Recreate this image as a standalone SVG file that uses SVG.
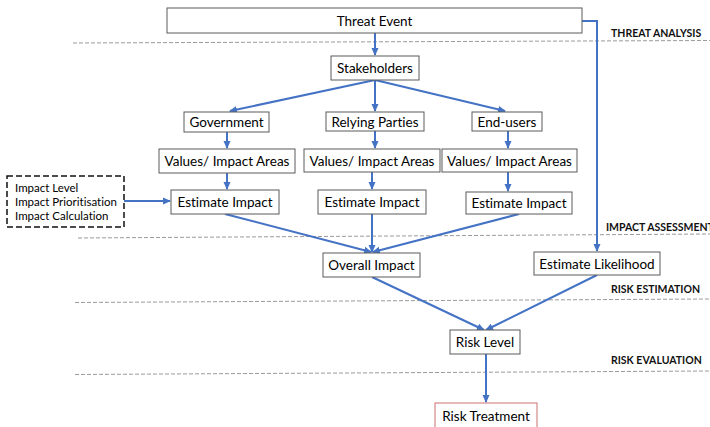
<svg xmlns="http://www.w3.org/2000/svg" width="710" height="427" viewBox="0 0 710 427">
<style>
text{font-variant-ligatures:none}
.box{fill:#fff;stroke:#5a5a5a;stroke-width:1}
.t{font-family:Lato,"Open Sans",sans-serif;font-size:13.5px;fill:#000;text-anchor:middle}
.s{font-family:Lato,"Open Sans",sans-serif;font-size:11.5px;fill:#000}
.lab{font-family:Lato,"Open Sans",sans-serif;font-size:10.5px;font-weight:bold;fill:#111}
.sep{stroke:#9a9a9a;stroke-width:1;stroke-dasharray:4 2;fill:none}
.c{stroke:#4472c4;stroke-width:2;fill:none}
</style>
<defs>
<marker id="ah" markerUnits="userSpaceOnUse" markerWidth="8" markerHeight="8" viewBox="0 0 8 8" refX="7" refY="4" orient="auto">
<path d="M0,0.5 L8,4 L0,7.5 Z" fill="#4472c4"/>
</marker>
</defs>
<g id="separators">
<line class="sep" x1="73" y1="43" x2="710" y2="40.5"/>
<line class="sep" x1="78" y1="238" x2="710" y2="234"/>
<line class="sep" x1="75" y1="302.5" x2="710" y2="299"/>
<line class="sep" x1="75" y1="374.5" x2="710" y2="371"/>
<text class="lab" x="611" y="37">THREAT ANALYSIS</text>
<text class="lab" x="606" y="231">IMPACT ASSESSMENT</text>
<text class="lab" x="611" y="293">RISK ESTIMATION</text>
<text class="lab" x="611" y="364">RISK EVALUATION</text>
</g>
<g id="connectors">
<line class="c" x1="375" y1="33" x2="375" y2="55" marker-end="url(#ah)"/>
<polyline class="c" points="582,21 597,21 597,251" marker-end="url(#ah)"/>
<line class="c" x1="375" y1="80" x2="230" y2="111" marker-end="url(#ah)"/>
<line class="c" x1="375" y1="80" x2="375" y2="111" marker-end="url(#ah)"/>
<line class="c" x1="375" y1="80" x2="505" y2="111" marker-end="url(#ah)"/>
<line class="c" x1="227" y1="132" x2="227" y2="148" marker-end="url(#ah)"/>
<line class="c" x1="375" y1="131" x2="375" y2="148" marker-end="url(#ah)"/>
<line class="c" x1="508" y1="131" x2="508" y2="148" marker-end="url(#ah)"/>
<line class="c" x1="227" y1="173" x2="227" y2="189" marker-end="url(#ah)"/>
<line class="c" x1="372" y1="172" x2="372" y2="189" marker-end="url(#ah)"/>
<line class="c" x1="508" y1="172" x2="508" y2="191" marker-end="url(#ah)"/>
<line class="c" x1="124" y1="201" x2="170" y2="201" marker-end="url(#ah)"/>
<line class="c" x1="225" y1="214" x2="371" y2="252" marker-end="url(#ah)"/>
<line class="c" x1="372" y1="214" x2="372" y2="252" marker-end="url(#ah)"/>
<line class="c" x1="519" y1="214" x2="373" y2="252" marker-end="url(#ah)"/>
<line class="c" x1="372" y1="277" x2="484" y2="330" marker-end="url(#ah)"/>
<line class="c" x1="597" y1="275" x2="486" y2="330" marker-end="url(#ah)"/>
<line class="c" x1="486" y1="354" x2="486" y2="402" marker-end="url(#ah)"/>
</g>
<g id="threat-event"><rect class="box" x="167" y="8" width="415" height="25"/><text class="t" x="374.5" y="25.5">Threat Event</text></g>
<g id="stakeholders"><rect class="box" x="331" y="56" width="88" height="24"/><text class="t" x="375" y="73">Stakeholders</text></g>
<g id="government"><rect class="box" x="184" y="112" width="85" height="20"/><text class="t" x="226.5" y="127">Government</text></g>
<g id="relying-parties"><rect class="box" x="326" y="112" width="98" height="19"/><text class="t" x="375" y="126.5">Relying Parties</text></g>
<g id="end-users"><rect class="box" x="472" y="112" width="70" height="19"/><text class="t" x="507" y="126.5">End-users</text></g>
<g id="values-gov"><rect class="box" x="159" y="149" width="136" height="24"/><text class="t" x="227" y="166">Values/ Impact Areas</text></g>
<g id="values-rp"><rect class="box" x="304" y="149" width="136" height="23"/><text class="t" x="372" y="165.5">Values/ Impact Areas</text></g>
<g id="values-eu"><rect class="box" x="442" y="149" width="135" height="23"/><text class="t" x="509.5" y="165.5">Values/ Impact Areas</text></g>
<g id="estimate-gov"><rect class="box" x="171" y="190" width="108" height="24"/><text class="t" x="225" y="207">Estimate Impact</text></g>
<g id="estimate-rp"><rect class="box" x="318" y="190" width="108" height="24"/><text class="t" x="372" y="207">Estimate Impact</text></g>
<g id="estimate-eu"><rect class="box" x="466" y="192" width="106" height="22"/><text class="t" x="519" y="208">Estimate Impact</text></g>
<g id="impact-factors"><rect x="7" y="176" width="117" height="51" fill="#fff" stroke="#111" stroke-width="1.5" stroke-dasharray="6 3"/>
<text class="s" x="15" y="192">Impact Level</text>
<text class="s" x="15" y="206">Impact Prioritisation</text>
<text class="s" x="15" y="220">Impact Calculation</text></g>
<g id="overall-impact"><rect class="box" x="323" y="253" width="97" height="24"/><text class="t" x="371.5" y="270">Overall Impact</text></g>
<g id="estimate-likelihood"><rect class="box" x="534" y="252" width="126" height="23"/><text class="t" x="597" y="268.5">Estimate Likelihood</text></g>
<g id="risk-level"><rect class="box" x="450" y="330" width="70" height="24"/><text class="t" x="485" y="347">Risk Level</text></g>
<g id="risk-treatment"><rect x="435" y="403" width="102" height="30" fill="#fff" stroke="#c9726f" stroke-width="1"/><text class="t" x="486" y="421">Risk Treatment</text></g>
</svg>
